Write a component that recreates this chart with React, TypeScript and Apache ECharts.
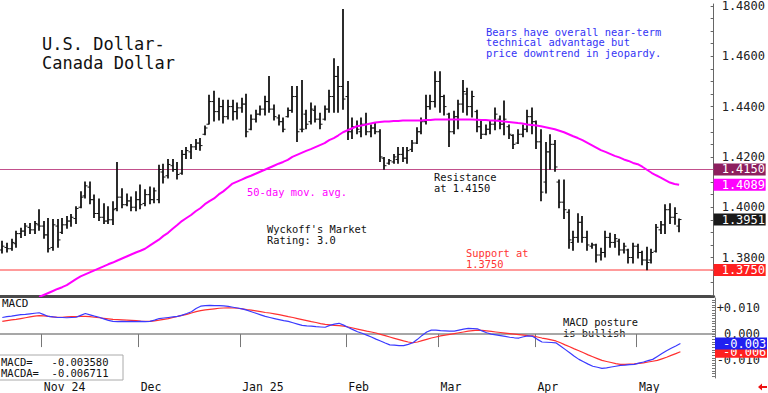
import React, { useEffect, useRef } from "react";
import * as echarts from "echarts";

const FONT = "DejaVu Sans Mono";

// ---- categories (trading days) ----
const firstDay = [2024, 9, 21]; // 2024-10-21 (UTC, month 0-based)
const categoryCount = 155; // includes empty days to the right of the last bar
const monthLabels: Record<string, string> = {
  "2024-11": "Nov 24",
  "2024-12": "Dec",
  "2025-01": "Jan 25",
  "2025-02": "Feb",
  "2025-03": "Mar",
  "2025-04": "Apr",
  "2025-05": "May",
};

// ---- price bars [open, high, low, close] ----
const octBars = [
  [1.3830, 1.3867, 1.3816, 1.3845], [1.3840, 1.3859, 1.3820, 1.3835], [1.3835, 1.3875, 1.3827, 1.3860],
  [1.3855, 1.3906, 1.3839, 1.3895], [1.3895, 1.3918, 1.3878, 1.3905], [1.3905, 1.3937, 1.3886, 1.3925],
  [1.3920, 1.3937, 1.3894, 1.3910], [1.3910, 1.3945, 1.3894, 1.3935], [1.3930, 1.3992, 1.3906, 1.3925],
];
const novBars = [
  [1.3925, 1.3945, 1.3875, 1.3890], [1.3890, 1.3957, 1.3820, 1.3835], [1.3840, 1.3953, 1.3827, 1.3930],
  [1.3925, 1.3953, 1.3839, 1.3870], [1.3900, 1.3957, 1.3894, 1.3930], [1.3930, 1.3965, 1.3914, 1.3945],
  [1.3945, 1.3973, 1.3922, 1.3960], [1.3955, 1.4004, 1.3933, 1.3995], [1.4000, 1.4063, 1.3996, 1.4040],
  [1.4045, 1.4102, 1.4035, 1.4085], [1.4080, 1.4102, 1.4012, 1.4030], [1.4030, 1.4051, 1.3957, 1.3975],
  [1.3975, 1.4035, 1.3945, 1.3960], [1.3960, 1.4016, 1.3933, 1.3945], [1.3945, 1.4004, 1.3933, 1.3950],
  [1.3950, 1.4024, 1.3929, 1.3990], [1.3995, 1.4180, 1.3984, 1.4040], [1.4040, 1.4075, 1.3996, 1.4010],
  [1.4010, 1.4055, 1.4004, 1.4025], [1.4025, 1.4043, 1.3984, 1.4000], [1.4000, 1.4063, 1.3984, 1.4030],
];
const decBars = [
  [1.4030, 1.4090, 1.3992, 1.4010], [1.4015, 1.4071, 1.4004, 1.4050], [1.4050, 1.4082, 1.4012, 1.4030],
  [1.4030, 1.4078, 1.4016, 1.4065], [1.4030, 1.4169, 1.4016, 1.4150], [1.4140, 1.4173, 1.4094, 1.4120],
  [1.4125, 1.4192, 1.4114, 1.4170], [1.4165, 1.4192, 1.4141, 1.4150], [1.4150, 1.4180, 1.4110, 1.4130],
  [1.4135, 1.4227, 1.4129, 1.4210], [1.4210, 1.4239, 1.4192, 1.4225], [1.4220, 1.4251, 1.4192, 1.4240],
  [1.4240, 1.4271, 1.4227, 1.4255], [1.4255, 1.4275, 1.4224, 1.4245], [1.4290, 1.4325, 1.4286, 1.4315],
  [1.4330, 1.4447, 1.4329, 1.4420], [1.4420, 1.4463, 1.4341, 1.4380], [1.4380, 1.4435, 1.4345, 1.4400],
  [1.4400, 1.4427, 1.4333, 1.4360], [1.4360, 1.4427, 1.4349, 1.4400], [1.4400, 1.4427, 1.4345, 1.4380],
  [1.4380, 1.4416, 1.4349, 1.4395],
];
const janBars = [
  [1.4395, 1.4435, 1.4376, 1.4410], [1.4410, 1.4451, 1.4278, 1.4300], [1.4310, 1.4369, 1.4306, 1.4350],
  [1.4350, 1.4388, 1.4337, 1.4370], [1.4370, 1.4404, 1.4365, 1.4390], [1.4390, 1.4443, 1.4365, 1.4420],
  [1.4420, 1.4522, 1.4376, 1.4390], [1.4390, 1.4408, 1.4345, 1.4360], [1.4355, 1.4369, 1.4325, 1.4340],
  [1.4340, 1.4357, 1.4298, 1.4310], [1.4360, 1.4396, 1.4357, 1.4385], [1.4385, 1.4482, 1.4376, 1.4440],
  [1.4440, 1.4482, 1.4259, 1.4300], [1.4310, 1.4506, 1.4298, 1.4310], [1.4370, 1.4388, 1.4310, 1.4330],
  [1.4340, 1.4416, 1.4329, 1.4390], [1.4385, 1.4404, 1.4337, 1.4350], [1.4350, 1.4376, 1.4310, 1.4330],
  [1.4350, 1.4404, 1.4345, 1.4390], [1.4390, 1.4467, 1.4376, 1.4440], [1.4440, 1.4592, 1.4376, 1.4520],
  [1.4520, 1.4561, 1.4376, 1.4480], [1.4480, 1.4788, 1.4388, 1.4430],
];
const febBars = [
  [1.4440, 1.4502, 1.4267, 1.4300], [1.4300, 1.4357, 1.4271, 1.4320], [1.4320, 1.4345, 1.4290, 1.4310],
  [1.4300, 1.4357, 1.4278, 1.4330], [1.4330, 1.4376, 1.4286, 1.4300], [1.4300, 1.4329, 1.4278, 1.4315],
  [1.4315, 1.4337, 1.4290, 1.4300], [1.4300, 1.4310, 1.4180, 1.4200], [1.4195, 1.4200, 1.4149, 1.4165],
  [1.4175, 1.4192, 1.4169, 1.4185], [1.4180, 1.4212, 1.4173, 1.4200], [1.4190, 1.4239, 1.4173, 1.4210],
  [1.4210, 1.4239, 1.4180, 1.4195], [1.4195, 1.4239, 1.4173, 1.4225], [1.4230, 1.4267, 1.4220, 1.4255],
  [1.4255, 1.4318, 1.4251, 1.4300], [1.4300, 1.4357, 1.4290, 1.4340], [1.4340, 1.4447, 1.4329, 1.4400],
  [1.4400, 1.4447, 1.4388, 1.4420], [1.4420, 1.4541, 1.4396, 1.4500],
];
const marBars = [
  [1.4500, 1.4541, 1.4376, 1.4440], [1.4440, 1.4447, 1.4365, 1.4400], [1.4370, 1.4376, 1.4239, 1.4300],
  [1.4300, 1.4384, 1.4290, 1.4360], [1.4360, 1.4427, 1.4310, 1.4410], [1.4410, 1.4506, 1.4376, 1.4460],
  [1.4450, 1.4475, 1.4365, 1.4400], [1.4400, 1.4463, 1.4357, 1.4440], [1.4380, 1.4388, 1.4298, 1.4320],
  [1.4320, 1.4345, 1.4271, 1.4290], [1.4290, 1.4329, 1.4286, 1.4310], [1.4310, 1.4345, 1.4290, 1.4330],
  [1.4330, 1.4396, 1.4306, 1.4370], [1.4350, 1.4365, 1.4310, 1.4330], [1.4330, 1.4424, 1.4286, 1.4350],
  [1.4320, 1.4329, 1.4271, 1.4290], [1.4285, 1.4290, 1.4231, 1.4250], [1.4255, 1.4310, 1.4251, 1.4290],
  [1.4290, 1.4329, 1.4278, 1.4310], [1.4310, 1.4388, 1.4298, 1.4360], [1.4360, 1.4396, 1.4290, 1.4340],
];
const aprBars = [
  [1.4340, 1.4345, 1.4231, 1.4260], [1.4260, 1.4310, 1.4024, 1.4060], [1.4100, 1.4259, 1.4055, 1.4220],
  [1.4220, 1.4290, 1.4149, 1.4250], [1.4250, 1.4267, 1.4141, 1.4160], [1.4100, 1.4110, 1.3996, 1.4020],
  [1.4020, 1.4110, 1.3953, 1.3990], [1.3980, 1.3992, 1.3835, 1.3870], [1.3860, 1.3906, 1.3827, 1.3880],
  [1.3880, 1.3976, 1.3859, 1.3940], [1.3940, 1.3965, 1.3859, 1.3880], [1.3880, 1.3906, 1.3827, 1.3850],
  [1.3845, 1.3859, 1.3835, 1.3850], [1.3850, 1.3855, 1.3780, 1.3810], [1.3810, 1.3839, 1.3788, 1.3820],
  [1.3820, 1.3906, 1.3800, 1.3880], [1.3880, 1.3898, 1.3839, 1.3860], [1.3860, 1.3894, 1.3839, 1.3875],
  [1.3865, 1.3875, 1.3808, 1.3830], [1.3830, 1.3859, 1.3816, 1.3845], [1.3830, 1.3835, 1.3776, 1.3800],
  [1.3800, 1.3859, 1.3776, 1.3845],
];
const mayBars = [
  [1.3845, 1.3855, 1.3796, 1.3820], [1.3820, 1.3827, 1.3769, 1.3790], [1.3790, 1.3843, 1.3749, 1.3780],
  [1.3790, 1.3835, 1.3776, 1.3820], [1.3825, 1.3933, 1.3820, 1.3920], [1.3910, 1.3945, 1.3894, 1.3930],
  [1.3930, 1.4012, 1.3894, 1.3990], [1.3990, 1.4016, 1.3933, 1.3960], [1.3960, 1.4000, 1.3930, 1.3975],
  [1.3925, 1.3955, 1.3900, 1.3951],
];

// ---- 50-day moving average ----
const movingAverage = [
  null, null, null, null, null, null, null, null,
  1.3643, 1.3651, 1.3659, 1.3667, 1.3675, 1.3682, 1.3690, 1.3702, 1.3714, 1.3725,
  1.3733, 1.3741, 1.3749, 1.3757, 1.3765, 1.3773, 1.3780, 1.3788, 1.3796, 1.3804,
  1.3812, 1.3820, 1.3827, 1.3835, 1.3847, 1.3859, 1.3871, 1.3886, 1.3898, 1.3914,
  1.3929, 1.3945, 1.3957, 1.3969, 1.3984, 1.3996, 1.4012, 1.4024, 1.4035, 1.4051,
  1.4063, 1.4078, 1.4094, 1.4102, 1.4110, 1.4118, 1.4125, 1.4133, 1.4141, 1.4149,
  1.4157, 1.4165, 1.4173, 1.4180, 1.4188, 1.4200, 1.4208, 1.4216, 1.4224, 1.4231,
  1.4239, 1.4247, 1.4255, 1.4267, 1.4275, 1.4286, 1.4298, 1.4306, 1.4314, 1.4322,
  1.4325, 1.4329, 1.4333, 1.4337, 1.4339, 1.4341, 1.4341, 1.4343, 1.4343, 1.4345,
  1.4345, 1.4345, 1.4345, 1.4345, 1.4347, 1.4347, 1.4349, 1.4349, 1.4349, 1.4349,
  1.4349, 1.4349, 1.4349, 1.4349, 1.4349, 1.4348, 1.4347, 1.4347, 1.4345, 1.4345,
  1.4343, 1.4341, 1.4339, 1.4337, 1.4335, 1.4333, 1.4329, 1.4327, 1.4325, 1.4322,
  1.4318, 1.4314, 1.4310, 1.4304, 1.4298, 1.4290, 1.4282, 1.4275, 1.4267, 1.4257,
  1.4247, 1.4237, 1.4227, 1.4220, 1.4212, 1.4204, 1.4198, 1.4190, 1.4184, 1.4176,
  1.4171, 1.4161, 1.4149, 1.4137, 1.4127, 1.4118, 1.4108, 1.4098, 1.4092, 1.4089,
];

// ---- MACD ----
const macdLine = [
  0.0063, 0.0066, 0.0068, 0.0071, 0.0074, 0.0075, 0.0077, 0.0079, 0.0081, 0.0074,
  0.0067, 0.0065, 0.0063, 0.0063, 0.0062, 0.0063, 0.0064, 0.0071, 0.0078, 0.0073,
  0.0068, 0.0064, 0.0058, 0.0052, 0.0048, 0.0047, 0.0048, 0.0047, 0.0048, 0.0047,
  0.0048, 0.0047, 0.0048, 0.0053, 0.0059, 0.0061, 0.0063, 0.0065, 0.0067, 0.0072,
  0.0078, 0.0085, 0.0097, 0.0106, 0.0108, 0.0109, 0.0108, 0.0108, 0.0107, 0.0105,
  0.0102, 0.0099, 0.0096, 0.0091, 0.0085, 0.0079, 0.0073, 0.0067, 0.0063, 0.0059,
  0.0055, 0.0051, 0.0048, 0.0043, 0.0038, 0.0033, 0.0031, 0.0030, 0.0028, 0.0027,
  0.0026, 0.0033, 0.0038, 0.0041, 0.0034, 0.0025, 0.0017, 0.0009, 0.0003, -0.0004,
  -0.0011, -0.0019, -0.0026, -0.0034, -0.0041, -0.0042, -0.0044, -0.0044, -0.0039, -0.0033,
  -0.0020, -0.0005, 0.0008, 0.0015, 0.0015, 0.0013, 0.0012, 0.0011, 0.0011, 0.0015,
  0.0019, 0.0022, 0.0021, 0.0020, 0.0012, 0.0005, 0.0000, -0.0003, -0.0006, -0.0009,
  -0.0012, -0.0014, -0.0015, -0.0010, -0.0007, -0.0009, -0.0020, -0.0030, -0.0031, -0.0032,
  -0.0033, -0.0045, -0.0058, -0.0071, -0.0084, -0.0096, -0.0105, -0.0114, -0.0122, -0.0126,
  -0.0130, -0.0128, -0.0125, -0.0122, -0.0119, -0.0118, -0.0116, -0.0115, -0.0110, -0.0106,
  -0.0101, -0.0096, -0.0085, -0.0074, -0.0063, -0.0054, -0.0045, -0.00358,
];
const macdSignal = [
  0.0048, 0.0051, 0.0054, 0.0056, 0.0059, 0.0062, 0.0065, 0.0068, 0.0070, 0.0069,
  0.0067, 0.0065, 0.0064, 0.0064, 0.0065, 0.0066, 0.0066, 0.0067, 0.0067, 0.0066,
  0.0064, 0.0062, 0.0060, 0.0058, 0.0056, 0.0055, 0.0054, 0.0053, 0.0052, 0.0051,
  0.0049, 0.0048, 0.0048, 0.0050, 0.0053, 0.0056, 0.0059, 0.0063, 0.0067, 0.0071,
  0.0075, 0.0080, 0.0085, 0.0089, 0.0092, 0.0094, 0.0096, 0.0098, 0.0099, 0.0100,
  0.0099, 0.0098, 0.0096, 0.0093, 0.0091, 0.0088, 0.0085, 0.0082, 0.0080, 0.0077,
  0.0074, 0.0070, 0.0066, 0.0063, 0.0059, 0.0055, 0.0051, 0.0047, 0.0044, 0.0040,
  0.0037, 0.0035, 0.0033, 0.0032, 0.0030, 0.0027, 0.0023, 0.0019, 0.0015, 0.0011,
  0.0008, 0.0004, -0.0001, -0.0006, -0.0011, -0.0016, -0.0021, -0.0026, -0.0030, -0.0033,
  -0.0030, -0.0025, -0.0020, -0.0015, -0.0011, -0.0007, -0.0004, -0.0001, 0.0002, 0.0005,
  0.0008, 0.0011, 0.0013, 0.0015, 0.0014, 0.0012, 0.0010, 0.0008, 0.0006, 0.0004,
  0.0002, 0.0000, -0.0002, -0.0004, -0.0006, -0.0007, -0.0011, -0.0015, -0.0018, -0.0022,
  -0.0026, -0.0033, -0.0041, -0.0048, -0.0056, -0.0063, -0.0071, -0.0079, -0.0086, -0.0093,
  -0.0100, -0.0104, -0.0108, -0.0112, -0.0115, -0.0115, -0.0114, -0.0113, -0.0111, -0.0109,
  -0.0106, -0.0103, -0.0100, -0.0094, -0.0088, -0.0081, -0.0074, -0.006711,
];

// ---- levels & axis ticks ----
const resistanceLevel = 1.415;
const supportLevel = 1.375;
const priceTickLabels = [1.38, 1.4, 1.42, 1.44, 1.46, 1.48];
const macdTickLabels = [-0.01, 0, 0.01];

function tradingDays(): string[] {
  const out: string[] = [];
  const d = new Date(Date.UTC(firstDay[0], firstDay[1], firstDay[2]));
  while (out.length < categoryCount) {
    const wd = d.getUTCDay();
    if (wd !== 0 && wd !== 6) out.push(d.toISOString().slice(0, 10));
    d.setUTCDate(d.getUTCDate() + 1);
  }
  return out;
}

const HIDDEN_LINE = { color: "rgba(0,0,0,0)", width: 0 };

export default function App() {
  const ref = useRef<HTMLDivElement>(null);
  useEffect(() => {
    if (!ref.current) return;
    const chart = echarts.init(ref.current, null, { renderer: "svg" });
    const cats = tradingDays();
    const monthStart = cats.map((c, i) => (i === 0 || cats[i - 1].slice(0, 7) !== c.slice(0, 7)) && monthLabels[c.slice(0, 7)] !== undefined);
    const bars = [...octBars, ...novBars, ...decBars, ...janBars, ...febBars, ...marBars, ...aprBars, ...mayBars];
    const ohlcData = bars.map((b, i) => [i, b[0], b[1], b[2], b[3]]);
    const lastClose = bars[bars.length - 1][3];
    const lastMA = movingAverage[movingAverage.length - 1] as number;
    const lastMacd = macdLine[macdLine.length - 1];
    const lastSignal = macdSignal[macdSignal.length - 1];

    const priceMinor: number[] = [];
    for (let k = 0; k <= 23; k++) priceMinor.push(+(1.365 + k * 0.005).toFixed(4));
    const macdMinor: number[] = [];
    for (let k = 0; k <= 29; k++) macdMinor.push(+(-0.016 + k * 0.001).toFixed(4));

    const boxLabel = (bg: string, digits: number, trunc = false) => ({
      show: true,
      position: "end",
      distance: 0,
      opacity: 1,
      formatter: (p: any) => {
        const v = Number(p.value);
        return trunc ? (Math.trunc(v * 1000) / 1000).toFixed(3) : v.toFixed(digits);
      },
      color: "#fff",
      backgroundColor: bg,
      fontFamily: FONT,
      fontSize: 12,
      lineHeight: 12,
      width: 44,
      padding: [0, 0, 0, 8],
      align: "left",
    });

    const txt = (text: string, left: number, top: number, color: string, size = 10.4, lh = 10.5) => ({
      type: "text",
      left,
      top,
      silent: true,
      style: { text, fill: color, font: `${size}px "${FONT}"`, lineHeight: lh },
    });

    const option: any = {
      animation: false,
      backgroundColor: "#ffffff",
      grid: [
        { left: 0, top: 0, width: 715, height: 296 },
        { left: 0, top: 298, width: 715, height: 82 },
      ],
      xAxis: [
        {
          gridIndex: 0,
          type: "category",
          data: cats,
          boundaryGap: true,
          axisLine: { show: true, lineStyle: { color: "#4a4a4a", width: 3 } },
          axisTick: { show: false },
          axisLabel: { show: false },
          splitLine: { show: false },
        },
        {
          gridIndex: 1,
          type: "category",
          data: cats,
          boundaryGap: true,
          axisLine: { show: true, lineStyle: { color: "#8a8a8a", width: 1.5 } },
          axisTick: {
            show: true,
            length: 13,
            interval: (i: number) => monthStart[i],
            lineStyle: { color: "#777", width: 1 },
          },
          axisLabel: {
            show: true,
            interval: (i: number) => monthStart[i],
            formatter: (v: string) => monthLabels[v.slice(0, 7)] ?? "",
            align: "left",
            margin: 3,
            color: "#111",
            fontFamily: FONT,
            fontSize: 11.5,
          },
          splitLine: { show: false },
        },
      ],
      yAxis: [
        {
          gridIndex: 0,
          type: "value",
          position: "right",
          min: 1.3647,
          max: 1.4808,
          axisLine: { show: true, lineStyle: { color: "#666", width: 1 } },
          axisTick: { show: true, inside: true, length: 3, customValues: priceMinor, lineStyle: { color: "#666" } },
          axisLabel: {
            show: true,
            customValues: priceTickLabels,
            formatter: (v: number) => v.toFixed(4),
            margin: 8,
            color: "#222",
            fontFamily: FONT,
            fontSize: 12,
          },
          splitLine: { show: false },
        },
        {
          gridIndex: 1,
          type: "value",
          position: "right",
          min: -0.01667,
          max: 0.0137,
          axisLine: { show: true, lineStyle: { color: "#777", width: 1 } },
          axisTick: { show: true, inside: true, length: 3, customValues: macdMinor, lineStyle: { color: "#777" } },
          axisLabel: {
            show: true,
            customValues: macdTickLabels,
            formatter: (v: number) => (v > 0.0001 ? "+" + v.toFixed(3) : Math.abs(v) < 0.0001 ? "0.000" : v.toFixed(3)),
            align: "right",
            margin: 45,
            color: "#222",
            fontFamily: FONT,
            fontSize: 12,
          },
          splitLine: { show: false },
        },
      ],
      series: [
        {
          type: "custom",
          xAxisIndex: 0,
          yAxisIndex: 0,
          data: ohlcData,
          encode: { x: 0, y: [1, 2, 3, 4] },
          renderItem: (params: any, api: any) => {
            const idx = api.value(0);
            const o = api.coord([idx, api.value(1)]);
            const h = api.coord([idx, api.value(2)]);
            const l = api.coord([idx, api.value(3)]);
            const c = api.coord([idx, api.value(4)]);
            const x = Math.round(h[0]);
            return {
              type: "group",
              children: [
                { type: "line", shape: { x1: x, y1: h[1], x2: x, y2: l[1] }, style: { stroke: "#151515", lineWidth: 1.8 } },
                { type: "line", shape: { x1: x - 2.5, y1: o[1], x2: x, y2: o[1] }, style: { stroke: "#151515", lineWidth: 1 } },
                { type: "line", shape: { x1: x, y1: c[1], x2: x + 2.5, y2: c[1] }, style: { stroke: "#151515", lineWidth: 1 } },
              ],
            };
          },
          z: 3,
        },
        {
          type: "line",
          xAxisIndex: 0,
          yAxisIndex: 0,
          data: movingAverage,
          symbol: "none",
          lineStyle: { color: "#ff00ff", width: 2 },
          z: 4,
          markLine: {
            silent: true,
            precision: 6,
            symbol: ["none", "none"],
            z: 2,
            data: [
              { yAxis: resistanceLevel, lineStyle: { color: "#c2508c", width: 1, type: "solid" }, label: boxLabel("#8e1f5f", 4) },
              { yAxis: supportLevel, lineStyle: { color: "#ff7a7a", width: 1.5, type: "solid" }, label: boxLabel("#ff2020", 4) },
              { yAxis: lastMA, lineStyle: HIDDEN_LINE, label: boxLabel("#ff00ff", 4) },
              { yAxis: lastClose, lineStyle: HIDDEN_LINE, label: boxLabel("#1a1a1a", 4) },
            ],
          },
        },
        {
          type: "line",
          xAxisIndex: 1,
          yAxisIndex: 1,
          data: macdSignal,
          symbol: "none",
          lineStyle: { color: "#ff3030", width: 1.2 },
          markLine: {
            silent: true,
            precision: 8,
            symbol: ["none", "none"],
            data: [{ yAxis: lastSignal, lineStyle: HIDDEN_LINE, label: boxLabel("#ff2020", 3, true) }],
          },
        },
        {
          type: "line",
          xAxisIndex: 1,
          yAxisIndex: 1,
          data: macdLine,
          symbol: "none",
          lineStyle: { color: "#3a3aff", width: 1.2 },
          markLine: {
            silent: true,
            precision: 8,
            symbol: ["none", "none"],
            data: [{ yAxis: lastMacd, lineStyle: HIDDEN_LINE, label: boxLabel("#2020f0", 3, true) }],
          },
        },
      ],
      graphic: [
        txt("U.S. Dollar-\nCanada Dollar", 42, 34, "#111", 17, 19),
        txt("Bears have overall near-term\ntechnical advantage but\nprice downtrend in jeopardy.", 486, 26.5, "#3434f5"),
        txt("50-day mov. avg.", 247, 186.5, "#ff00ff"),
        txt("Wyckoff's Market\nRating: 3.0", 267, 223.8, "#111"),
        txt("Resistance\nat 1.4150", 434, 171.8, "#111"),
        txt("Support at\n1.3750", 466, 247.8, "#ff3333"),
        txt("MACD posture\nis bullish", 563, 316.8, "#111"),
        txt("MACD", 2, 297.5, "#111", 11, 11),
        {
          type: "rect",
          shape: { x: -1, y: 355, width: 124, height: 25 },
          style: { fill: "#fff", stroke: "#aaa", lineWidth: 1 },
          silent: true,
          z: 10,
        },
        {
          type: "text",
          left: 1,
          top: 356,
          z: 11,
          silent: true,
          style: { text: `MACD=   ${lastMacd.toFixed(6)}`, fill: "#111", font: `10.5px "${FONT}"` },
        },
        {
          type: "text",
          left: 1,
          top: 367.5,
          z: 11,
          silent: true,
          style: { text: `MACDA=  ${lastSignal.toFixed(6)}`, fill: "#111", font: `10.5px "${FONT}"` },
        },
        {
          type: "polygon",
          silent: true,
          shape: { points: [[758, 387], [762, 383.5], [762, 386], [767, 386], [767, 388], [762, 388], [762, 390.5]] },
          style: { fill: "#ee1111" },
        },
      ],
    };
    chart.setOption(option);
    return () => chart.dispose();
  }, []);
  return <div ref={ref} style={{ position: "fixed", left: 0, top: 0, width: 768, height: 393, background: "#fff" }} />;
}
